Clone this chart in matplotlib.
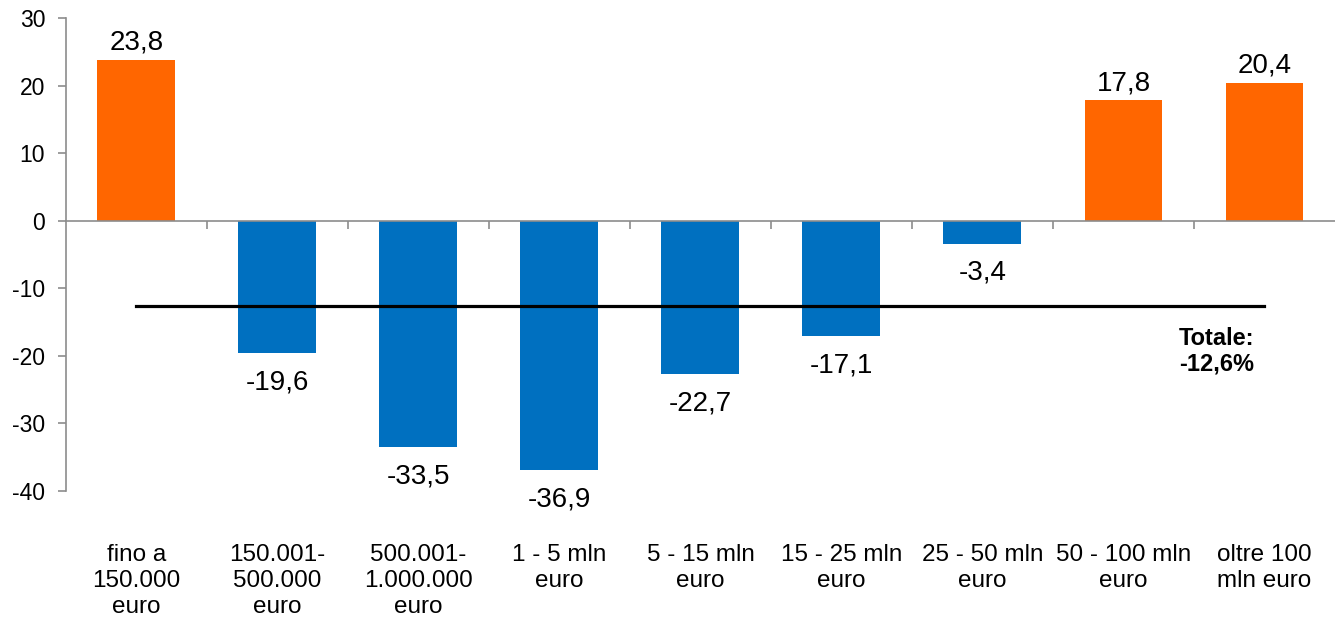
import numpy as np
import matplotlib.pyplot as plt

plt.rcParams['font.family'] = ['Liberation Sans', 'DejaVu Sans']
plt.rcParams['axes.unicode_minus'] = False

# Data: variation by class size
categories = ["fino a\n150.000\neuro", "150.001-\n500.000\neuro", "500.001-\n1.000.000\neuro",
              "1 - 5 mln\neuro", "5 - 15 mln\neuro", "15 - 25 mln\neuro",
              "25 - 50 mln\neuro", "50 - 100 mln\neuro", "oltre 100\nmln euro"]
values = [23.8, -19.6, -33.5, -36.9, -22.7, -17.1, -3.4, 17.8, 20.4]
total = -12.6

orange = "#FF6600"
blue = "#0070C0"
axis_gray = "#8C8C8C"

fig = plt.figure(figsize=(13.35, 6.27), dpi=100)
ax = fig.add_axes([0.0494, 0.2169, 0.9506, 0.7544])

x = np.arange(len(values))
colors = [orange if v > 0 else blue for v in values]
ax.bar(x, values, width=0.553, color=colors, zorder=2)

# value labels
for xi, v in zip(x, values):
    lab = f"{v:.1f}".replace(".", ",")
    if v >= 0:
        ax.annotate(lab, (xi, v), xytext=(0, 3), textcoords="offset points",
                    ha="center", va="bottom", fontsize=20)
    else:
        ax.annotate(lab, (xi, v), xytext=(0, -11.5), textcoords="offset points",
                    ha="center", va="top", fontsize=20)

# total line
ax.plot([x[0], x[-1]], [total, total], color="black", lw=2.3, zorder=3)
ax.text(7.66, -15.8, "Totale:\n" + f"{total:.1f}".replace(".", ",") + "%",
        ha="center", va="top", fontsize=17, fontweight="bold", linespacing=1.1)

ax.set_xlim(-0.5, len(values) - 0.5)
ax.set_ylim(-40, 30)
ax.set_yticks(np.arange(-40, 31, 10))
ax.tick_params(axis="y", labelsize=16.5, length=6, color=axis_gray, width=1.2, pad=9)

# x axis at zero with boundary ticks
ax.spines["bottom"].set_position(("data", 0))
ax.spines["bottom"].set_color(axis_gray)
ax.spines["bottom"].set_linewidth(1.2)
ax.spines["left"].set_color(axis_gray)
ax.spines["left"].set_linewidth(1.2)
ax.spines["top"].set_visible(False)
ax.spines["right"].set_visible(False)
ax.set_xticks(x)
ax.set_xticklabels([])
ax.tick_params(axis="x", which="major", length=0)
ax.set_xticks(np.arange(0.5, len(values) - 1), minor=True)
ax.tick_params(axis="x", which="minor", length=6, color=axis_gray, width=1.2, direction="out")

# category labels at the bottom
for xi, c in zip(x, categories):
    ax.text(xi, -47.9, c, ha="center", va="top", fontsize=17.5, linespacing=1.22,
            clip_on=False)

fig.savefig("out.png", dpi=100)
